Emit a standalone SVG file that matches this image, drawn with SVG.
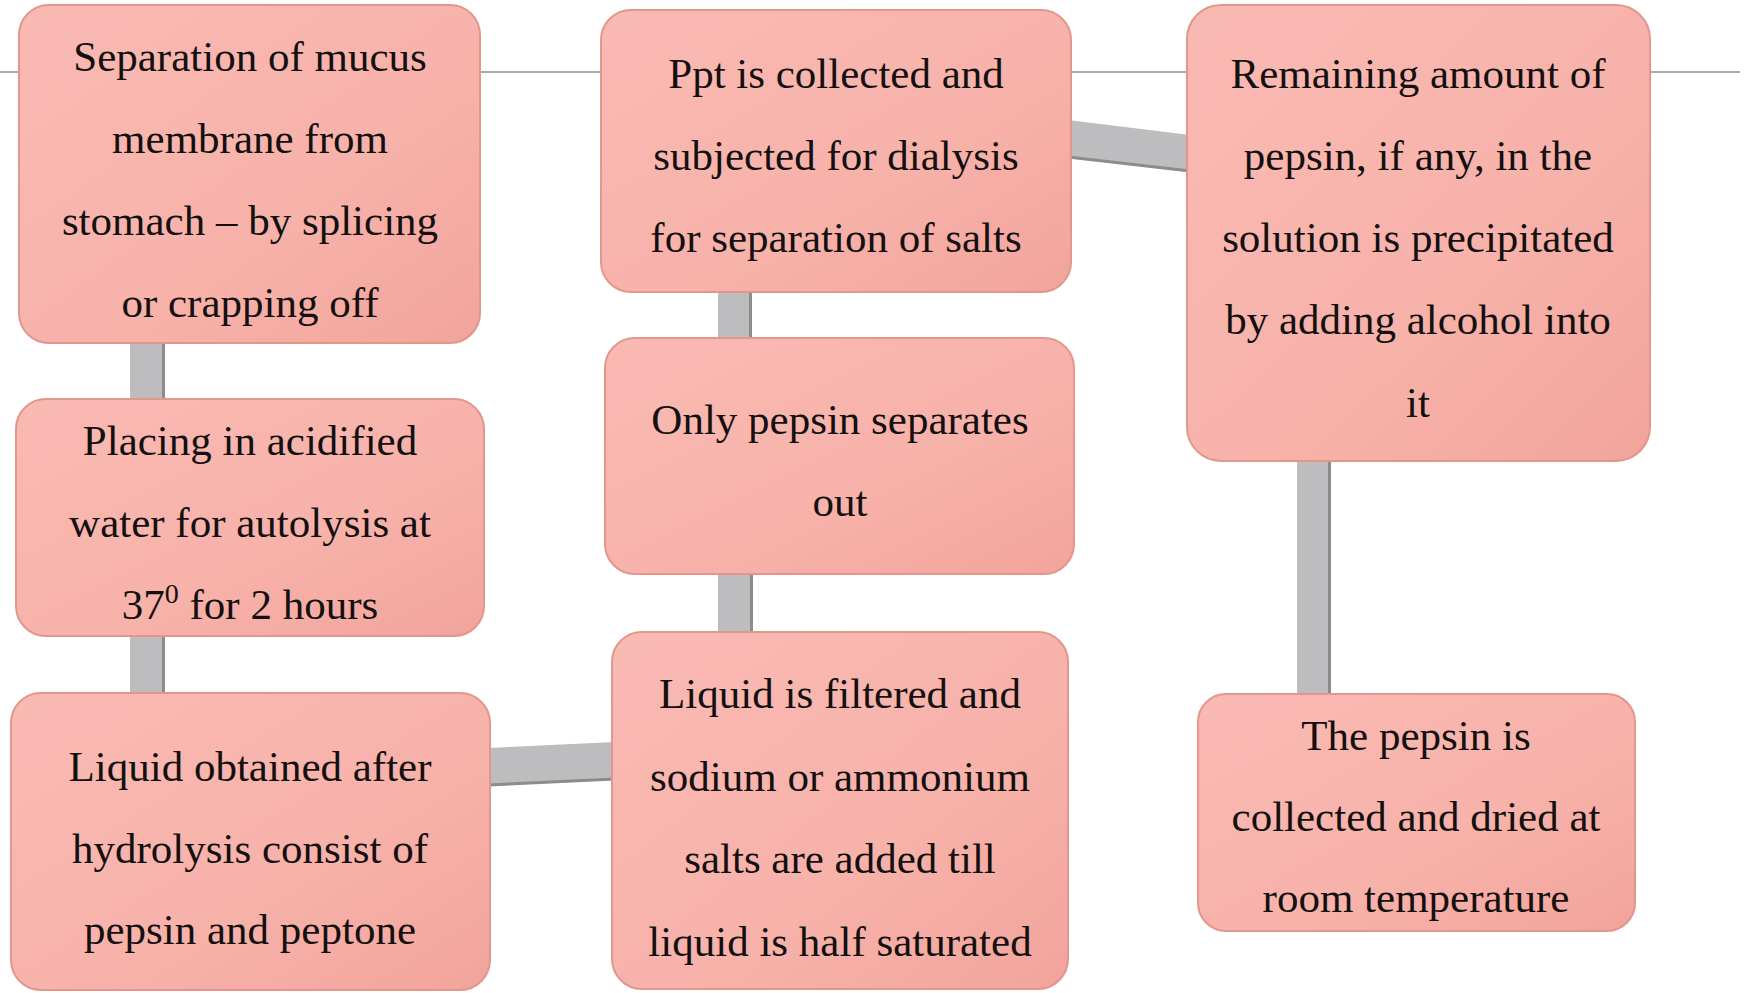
<svg xmlns="http://www.w3.org/2000/svg" width="1750" height="993" viewBox="0 0 1750 993">
  <defs>
    <linearGradient id="boxFill" x1="0" y1="0" x2="1" y2="1">
      <stop offset="0" stop-color="#f9bab3"/>
      <stop offset="0.6" stop-color="#f7b2aa"/>
      <stop offset="1" stop-color="#f2a49b"/>
    </linearGradient>
    <style>
      .box { fill: url(#boxFill); stroke: #e2968c; stroke-width: 2; }
      .bar { fill: #bdbdc0; }
      .edge { stroke: #8c8c8c; stroke-width: 3; fill: none; }
      .lbl { font-family: "Liberation Serif", "Times New Roman", serif; font-size: 43px; fill: #141010; text-anchor: middle; }
      .rule { stroke: #a9a9a9; stroke-width: 2; }
    </style>
  </defs>

  <rect x="0" y="0" width="1750" height="993" fill="#ffffff"/>
  <line class="rule" x1="0" y1="72" x2="1740" y2="72"/>

  <g id="connectors">
    <rect class="bar" x="130" y="340" width="35" height="62"/>
    <line class="edge" x1="163.5" y1="340" x2="163.5" y2="402"/>
    <rect class="bar" x="130" y="633" width="35" height="62"/>
    <line class="edge" x1="163.5" y1="633" x2="163.5" y2="695"/>
    <polygon class="bar" points="488,748 615,742 615,780 488,786"/>
    <line class="edge" x1="488" y1="785" x2="615" y2="779"/>
    <rect class="bar" x="718" y="570" width="35" height="65"/>
    <line class="edge" x1="751.5" y1="570" x2="751.5" y2="635"/>
    <rect class="bar" x="718" y="289" width="34" height="52"/>
    <line class="edge" x1="750.5" y1="289" x2="750.5" y2="341"/>
    <polygon class="bar" points="1068,120 1190,135 1190,172 1068,158"/>
    <line class="edge" x1="1068" y1="157" x2="1190" y2="171"/>
    <rect class="bar" x="1297" y="457" width="34" height="240"/>
    <line class="edge" x1="1329.5" y1="457" x2="1329.5" y2="697"/>
  </g>

  <g id="n1">
    <rect class="box" x="19" y="5" width="461" height="338" rx="30"/>
    <text class="lbl" x="250" y="71">Separation of mucus</text>
    <text class="lbl" x="250" y="153">membrane from</text>
    <text class="lbl" x="250" y="235">stomach – by splicing</text>
    <text class="lbl" x="250" y="317">or crapping off</text>
  </g>

  <g id="n2">
    <rect class="box" x="16" y="399" width="468" height="237" rx="30"/>
    <text class="lbl" x="250" y="455">Placing in acidified</text>
    <text class="lbl" x="250" y="537">water for autolysis at</text>
    <text class="lbl" x="250" y="619">37<tspan font-size="28" dy="-16">0</tspan><tspan dy="16"> for 2 hours</tspan></text>
  </g>

  <g id="n3">
    <rect class="box" x="11" y="693" width="479" height="297" rx="30"/>
    <text class="lbl" x="250" y="781">Liquid obtained after</text>
    <text class="lbl" x="250" y="863">hydrolysis consist of</text>
    <text class="lbl" x="250" y="944">pepsin and peptone</text>
  </g>

  <g id="n4">
    <rect class="box" x="612" y="632" width="456" height="357" rx="30"/>
    <text class="lbl" x="840" y="708">Liquid is filtered and</text>
    <text class="lbl" x="840" y="791">sodium or ammonium</text>
    <text class="lbl" x="840" y="873">salts are added till</text>
    <text class="lbl" x="840" y="956">liquid is half saturated</text>
  </g>

  <g id="n5">
    <rect class="box" x="605" y="338" width="469" height="236" rx="30"/>
    <text class="lbl" x="840" y="434">Only pepsin separates</text>
    <text class="lbl" x="840" y="516">out</text>
  </g>

  <g id="n6">
    <rect class="box" x="601" y="10" width="470" height="282" rx="30"/>
    <text class="lbl" x="836" y="88">Ppt is collected and</text>
    <text class="lbl" x="836" y="170">subjected for dialysis</text>
    <text class="lbl" x="836" y="252">for separation of salts</text>
  </g>

  <g id="n7">
    <rect class="box" x="1187" y="5" width="463" height="456" rx="34"/>
    <text class="lbl" x="1418" y="88">Remaining amount of</text>
    <text class="lbl" x="1418" y="170">pepsin, if any, in the</text>
    <text class="lbl" x="1418" y="252">solution is precipitated</text>
    <text class="lbl" x="1418" y="334">by adding alcohol into</text>
    <text class="lbl" x="1418" y="417">it</text>
  </g>

  <g id="n8">
    <rect class="box" x="1198" y="694" width="437" height="237" rx="28"/>
    <text class="lbl" x="1416" y="750">The pepsin is</text>
    <text class="lbl" x="1416" y="831">collected and dried at</text>
    <text class="lbl" x="1416" y="912">room temperature</text>
  </g>
</svg>
